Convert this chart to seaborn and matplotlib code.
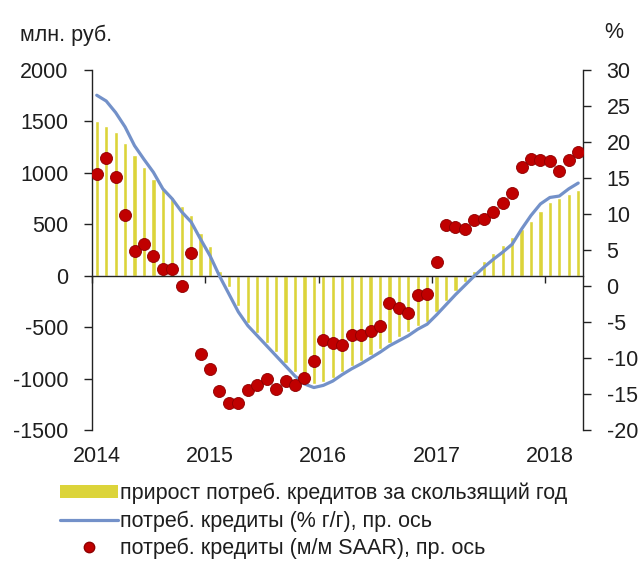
import numpy as np
import pandas as pd
import matplotlib
matplotlib.use("Agg")
import matplotlib.pyplot as plt
import matplotlib.transforms as mtransforms
from matplotlib.patches import Patch
from matplotlib.lines import Line2D
import seaborn as sns

# Monthly observations, Jan 2014 - Apr 2018
months = pd.date_range("2014-01-01", "2018-04-01", freq="MS")
month_labels = [d.strftime("%Y-%m") for d in months]

# 12-month rolling increase of consumer loans, mln rub (left axis)
rolling_increase = [
    1500, 1460, 1400, 1290, 1170, 1060, 940, 850, 770, 680, 590, 415,
    285, 45, -105, -290, -455, -555, -650, -745, -845, -940, -1020, -1055,
    -1035, -990, -935, -880, -825, -770, -710, -650, -600, -550, -490, -445,
    -350, -250, -150, -60, 50, 140, 220, 300, 380, 450, 530, 625,
    720, 755, 790, 835,
]

# Consumer loans, % y/y (right axis)
yoy_growth = [
    26.5, 25.7, 24.1, 22.1, 19.5, 17.6, 15.8, 13.5, 12.1, 10.3, 8.9, 6.5,
    4.2, 1.4, -1.1, -3.6, -5.5, -6.9, -8.3, -9.7, -11.1, -12.5, -13.6, -14.1,
    -13.8, -13.2, -12.3, -11.5, -10.8, -10.0, -9.2, -8.3, -7.6, -6.9, -6.0, -5.3,
    -4.0, -2.6, -1.2, 0.1, 1.4, 2.6, 3.7, 4.7, 5.8, 7.9, 9.8, 11.4,
    12.3, 12.5, 13.5, 14.3,
]

# Consumer loans, m/m SAAR (right axis)
mom_saar = [
    15.6, 17.8, 15.1, 9.8, 4.9, 5.8, 4.2, 2.3, 2.4, 0.0, 4.6, -9.4,
    -11.5, -14.6, -16.3, -16.3, -14.5, -13.8, -12.9, -14.3, -13.2, -13.8, -12.8, -10.4,
    -7.5, -7.9, -8.2, -6.8, -6.8, -6.2, -5.5, -2.3, -3.0, -3.7, -1.2, -1.1,
    3.4, 8.5, 8.2, 7.9, 9.2, 9.3, 10.3, 11.5, 12.9, 16.5, 17.6, 17.5,
    17.4, 16.0, 17.5, 18.6,
]

year_labels = ["2014", "2015", "2016", "2017", "2018"]
left_ticks = [-1500, -1000, -500, 0, 500, 1000, 1500, 2000]
right_ticks = [-20, -15, -10, -5, 0, 5, 10, 15, 20, 25, 30]

legend_labels = [
    "прирост потреб. кредитов за скользящий год",
    "потреб. кредиты (% г/г), пр. ось",
    "потреб. кредиты (м/м SAAR), пр. ось",
]

BAR_COLOR = "#DCD43A"
LINE_COLOR = "#7391C9"
DOT_COLOR = "#C00000"
TEXT_COLOR = "#1E1E1E"
FS = 15.5

sns.set_theme(style="white")
plt.rcParams["font.family"] = ["Liberation Sans", "DejaVu Sans"]
plt.rcParams["font.size"] = FS

df = pd.DataFrame({
    "month": month_labels,
    "pos": np.arange(len(month_labels)),
    "increase": rolling_increase,
    "yoy": yoy_growth,
    "saar": mom_saar,
})

fig = plt.figure(figsize=(6.4, 5.63), dpi=100)
ax = fig.add_axes([0.1438, 0.2362, 0.767, 0.6394])

sns.barplot(data=df, x="month", y="increase", color=BAR_COLOR, saturation=1,
            width=0.45, ax=ax)
ax.set_ylim(-1500, 2000)
ax.set_yticks(left_ticks)
ax.set_yticklabels([str(v) for v in left_ticks], color=TEXT_COLOR)

ax2 = ax.twinx()
sns.lineplot(data=df, x="pos", y="yoy", color=LINE_COLOR, linewidth=2.3, ax=ax2)
sns.scatterplot(data=df, x="pos", y="saar", color=DOT_COLOR, s=75,
                edgecolor="#8E0000", linewidth=0.6, ax=ax2, zorder=4)
ax2.set_ylim(-20, 30)
ax2.set_yticks(right_ticks)
ax2.set_yticklabels([str(v) for v in right_ticks], color=TEXT_COLOR)

n = len(month_labels)
ax.set_xlim(-0.5, n - 0.5)
ax.set_xticks([12 * k - 0.5 for k in range(len(year_labels))])
ax.set_xticklabels([])
for a in (ax, ax2):
    a.set_xlabel("")
    a.set_ylabel("")

# Category axis runs along the zero line of the left scale
ax.spines["bottom"].set_position(("data", 0))
ax.spines["bottom"].set_color("#222222")
ax.spines["bottom"].set_linewidth(1.0)
ax.spines["top"].set_visible(False)
ax.spines["right"].set_visible(False)
ax.spines["left"].set_color("#222222")
ax.spines["left"].set_linewidth(1.0)
for side in ("top", "left", "bottom"):
    ax2.spines[side].set_visible(False)
ax2.spines["right"].set_color("#222222")
ax2.spines["right"].set_linewidth(1.0)

ax.tick_params(axis="x", direction="out", length=5, width=1, color="#222222",
               bottom=True, labelbottom=False)
ax.tick_params(axis="y", direction="out", length=6, width=1, color="#222222",
               left=True, pad=11, labelsize=FS)
ax2.tick_params(axis="y", direction="out", length=6, width=1, color="#222222",
                right=True, pad=11, labelsize=FS)

# Year labels under the plot area
year_tf = mtransforms.blended_transform_factory(ax.transData, fig.transFigure)
for k, lab in enumerate(year_labels):
    ax.text(12 * k, 1 - 457 / 563, lab, transform=year_tf, ha="center",
            va="center", fontsize=FS, color=TEXT_COLOR)

fig.text(20 / 640, 1 - 35 / 563, "млн. руб.", ha="left", va="center",
         fontsize=FS, color=TEXT_COLOR)
fig.text(614 / 640, 1 - 33 / 563, "%", ha="center", va="center",
         fontsize=FS, color=TEXT_COLOR)

handles = [
    Patch(facecolor=BAR_COLOR, edgecolor="none"),
    Line2D([], [], color=LINE_COLOR, linewidth=2.3),
    Line2D([], [], linestyle="none", marker="o", markersize=7.5,
           markerfacecolor=DOT_COLOR, markeredgecolor="#8E0000"),
]
fig.legend(handles, legend_labels, loc="upper left",
           bbox_to_anchor=(49 / 640, 1 - 472 / 563), frameon=False,
           fontsize=FS, handlelength=2.7, handleheight=0.55,
           handletextpad=0.1, labelspacing=0.28, borderpad=0,
           labelcolor=TEXT_COLOR)

fig.savefig("out.png", dpi=100)
